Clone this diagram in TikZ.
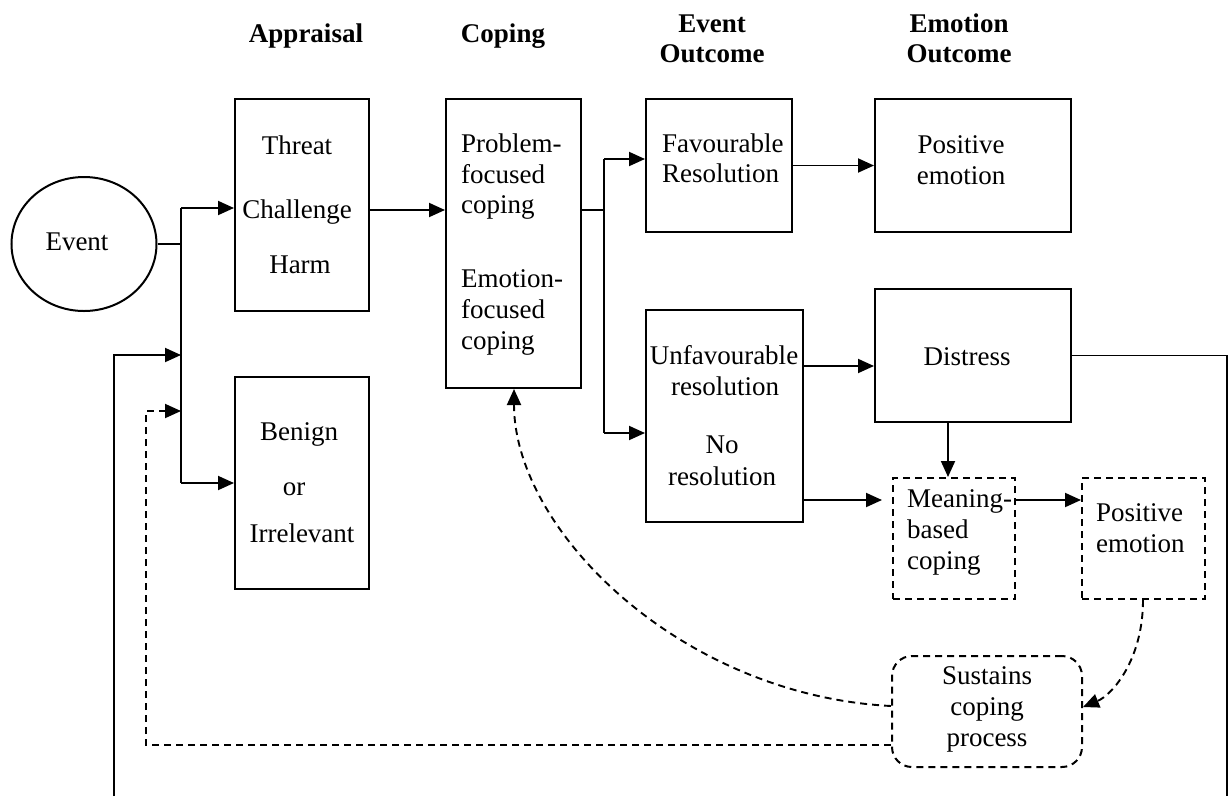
\documentclass[tikz,border=0pt]{standalone}
\usepackage{fontspec}
\setmainfont{Liberation Serif}
\usetikzlibrary{arrows.meta,shapes.geometric}
\newcommand{\ctx}[4]{\node[lbl,anchor=base] (#1) at (#2,#3) {#4};}
\newcommand{\ltx}[4]{\node[lbl,anchor=base west] (#1) at (#2,#3) {#4};}
\newcommand{\htx}[4]{\node[hd,anchor=base] (#1) at (#2,#3) {#4};}
\begin{document}
\begin{tikzpicture}[x=1pt,y=-1pt,
  every node/.style={font=\fontsize{27}{31}\selectfont},
  box/.style={draw,line width=2pt,rectangle,inner sep=0pt},
  dbox/.style={box,dash pattern=on 7pt off 5pt},
  ln/.style={line width=1.9pt},
  arr/.style={ln,-{Triangle[length=16pt,width=14pt]}},
  dln/.style={ln,dash pattern=on 7pt off 5pt},
  darr/.style={dln,-{Triangle[length=16pt,width=14pt]}},
  lbl/.style={inner sep=0pt},
  hd/.style={inner sep=0pt,font=\fontsize{27}{31}\selectfont\bfseries}]
\useasboundingbox (0,0) rectangle (1231,796);
\fill[white] (0,0) rectangle (1231,796);

% headings
\htx{h1}{306}{42}{Appraisal}
\htx{h2}{503}{42}{Coping}
\htx{h3}{712}{32}{Event}
\htx{h4}{712}{62}{Outcome}
\htx{h5}{959}{32}{Emotion}
\htx{h6}{959}{62}{Outcome}

% shapes
\node[draw,ellipse,line width=2pt,minimum width=145pt,minimum height=134pt,inner sep=0pt] (event) at (84,244) {};
\node[box,minimum width=134pt,minimum height=212pt] (threat) at (302,205) {};
\node[box,minimum width=134pt,minimum height=212pt] (benign) at (302,483) {};
\node[box,minimum width=135pt,minimum height=289pt] (coping) at (513.5,243.5) {};
\node[box,minimum width=146pt,minimum height=133pt] (fav) at (719,165.5) {};
\node[box,minimum width=157pt,minimum height=212pt] (unfav) at (724.5,416) {};
\node[box,minimum width=196pt,minimum height=133pt] (pose) at (973,165.5) {};
\node[box,minimum width=196pt,minimum height=133pt] (distress) at (973,355.5) {};
\node[dbox,minimum width=122pt,minimum height=121pt] (meaning) at (954,538.5) {};
\node[dbox,minimum width=123pt,minimum height=121pt] (pos2) at (1143.5,538.5) {};
\node[dbox,rounded corners=20pt,minimum width=190pt,minimum height=111pt] (sust) at (987,711.5) {};

% texts
\ctx{t1}{77}{250}{Event}
\ctx{t2}{297}{154}{Threat}
\ctx{t3}{297}{218}{Challenge}
\ctx{t4}{300}{273}{Harm}
\ctx{t5}{299}{440}{Benign}
\ctx{t6}{294}{495}{or}
\ctx{t7}{302}{542}{Irrelevant}
\ltx{t8}{461}{152}{Problem-}
\ltx{t9}{461}{183}{focused}
\ltx{t10}{461}{213}{coping}
\ltx{t11}{461}{287}{Emotion-}
\ltx{t12}{461}{318}{focused}
\ltx{t13}{461}{349}{coping}
\ltx{t14}{662}{152}{Favourable}
\ltx{t15}{662}{182}{Resolution}
\ctx{t16}{961}{153}{Positive}
\ctx{t17}{961}{184}{emotion}
\ctx{t18}{724}{364}{Unfavourable}
\ctx{t19}{725}{395}{resolution}
\ctx{t20}{722}{453}{No}
\ctx{t21}{722}{485}{resolution}
\ctx{t22}{967}{365}{Distress}
\ltx{t23}{907}{507}{Meaning-}
\ltx{t24}{907}{538}{based}
\ltx{t25}{907}{569}{coping}
\ltx{t26}{1096}{521}{Positive}
\ltx{t27}{1096}{552}{emotion}
\ctx{t28}{987}{684}{Sustains}
\ctx{t29}{987}{715}{coping}
\ctx{t30}{987}{746}{process}

% junction coordinates
\coordinate (ja) at (181,208);
\coordinate (jb) at (181,483);
\coordinate (jc) at (181,355);
\coordinate (jd) at (181,411);
\coordinate (ka) at (604,159);
\coordinate (kb) at (604,433);
\coordinate (lb) at (114,796);
\coordinate (rb) at (1227,796);
\coordinate (dl) at (146,745);

% connectors
\draw[ln] (event.east) -- (event.east -| ja);
\draw[ln] (ja) -- (jb);
\draw[arr] (ja) -- (ja -| threat.west);
\draw[arr] (jb) -- (jb -| benign.west);
\draw[arr] (threat.east |- 0,210) -- (coping.west |- 0,210);
\draw[ln] (coping.east |- 0,210) -- (ka |- 0,210);
\draw[ln] (ka) -- (kb);
\draw[arr] (ka) -- (ka -| fav.west);
\draw[arr] (kb) -- (kb -| unfav.west);
\draw[arr] (fav.east) -- (pose.west);
\draw[arr] (unfav.east |- 0,366) -- (distress.west |- 0,366);
\draw[arr,shorten >=10pt] (unfav.east |- 0,500) -- (meaning.west |- 0,500);
\draw[arr] (distress.south -| 948,0) -- (meaning.north -| 948,0);
\draw[arr] (meaning.east |- 0,500) -- (pos2.west |- 0,500);
\draw[ln] (distress.east) -| (rb);
\draw[arr] (lb) |- (jc);
\draw[darr] (sust.west |- dl) -- (dl) |- (jd);
\draw[darr] (sust.west |- 0,706) .. controls (680,695) and (514,530) .. (coping.south -| 514,0);
\draw[darr] (pos2.south -| 1143,0) .. controls (1143,660) and (1112,695) .. (sust.east |- 0,707);
\end{tikzpicture}
\end{document}
